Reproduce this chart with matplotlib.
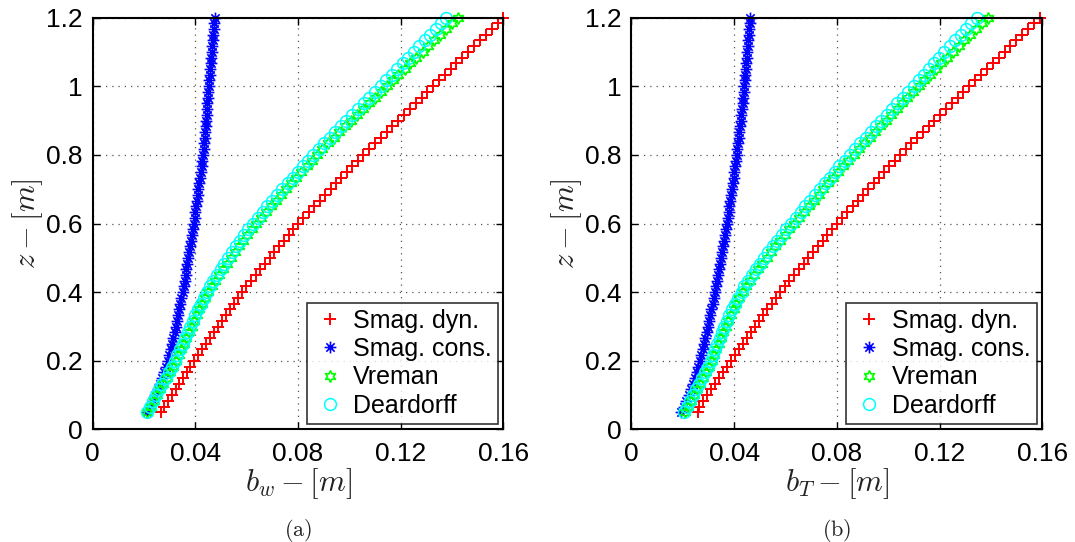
import numpy as np
import matplotlib
matplotlib.use("Agg")
import matplotlib.pyplot as plt
from matplotlib.ticker import FixedLocator, FuncFormatter
from matplotlib.path import Path

plt.rcParams['font.family'] = ['Liberation Sans', 'DejaVu Sans']
plt.rcParams['mathtext.fontset'] = 'cm'

# vertical grid of sample heights z [m]
z = [0.05 + k / 60 for k in range(70)]

# Panel (a): b_w
bw_smag_dyn = [0.0265, 0.0279, 0.0294, 0.0308, 0.0323, 0.0337, 0.0352, 0.0366, 0.0381, 0.0395,
               0.0410, 0.0426, 0.0441, 0.0457, 0.0472, 0.0487, 0.0503, 0.0518, 0.0534, 0.0549,
               0.0565, 0.0580, 0.0598, 0.0617, 0.0635, 0.0653, 0.0672, 0.0690, 0.0708, 0.0727,
               0.0745, 0.0763, 0.0782, 0.0800, 0.0821, 0.0842, 0.0864, 0.0885, 0.0906, 0.0927,
               0.0948, 0.0969, 0.0991, 0.1012, 0.1033, 0.1054, 0.1077, 0.1099, 0.1122, 0.1145,
               0.1167, 0.1190, 0.1213, 0.1235, 0.1258, 0.1281, 0.1303, 0.1326, 0.1349, 0.1372,
               0.1394, 0.1417, 0.1440, 0.1463, 0.1486, 0.1509, 0.1531, 0.1554, 0.1577, 0.1600]
bw_smag_cons = [0.0213, 0.0224, 0.0234, 0.0244, 0.0254, 0.0263, 0.0271, 0.0279, 0.0287, 0.0294,
                0.0299, 0.0304, 0.0309, 0.0314, 0.0319, 0.0324, 0.0328, 0.0333, 0.0337, 0.0342,
                0.0346, 0.0350, 0.0354, 0.0358, 0.0362, 0.0365, 0.0369, 0.0372, 0.0376, 0.0380,
                0.0383, 0.0387, 0.0390, 0.0394, 0.0397, 0.0400, 0.0403, 0.0406, 0.0409, 0.0412,
                0.0415, 0.0418, 0.0421, 0.0424, 0.0427, 0.0430, 0.0432, 0.0434, 0.0436, 0.0438,
                0.0440, 0.0442, 0.0444, 0.0446, 0.0447, 0.0449, 0.0451, 0.0453, 0.0455, 0.0457,
                0.0458, 0.0460, 0.0462, 0.0464, 0.0466, 0.0468, 0.0469, 0.0471, 0.0473, 0.0475]
bw_vreman = [0.0213, 0.0226, 0.0238, 0.0251, 0.0263, 0.0275, 0.0288, 0.0300, 0.0312, 0.0325,
             0.0335, 0.0345, 0.0355, 0.0365, 0.0375, 0.0385, 0.0395, 0.0405, 0.0416, 0.0427,
             0.0439, 0.0451, 0.0464, 0.0478, 0.0492, 0.0507, 0.0522, 0.0538, 0.0554, 0.0570,
             0.0586, 0.0603, 0.0620, 0.0637, 0.0656, 0.0675, 0.0694, 0.0713, 0.0733, 0.0753,
             0.0773, 0.0793, 0.0813, 0.0833, 0.0853, 0.0873, 0.0895, 0.0917, 0.0939, 0.0961,
             0.0984, 0.1007, 0.1030, 0.1053, 0.1076, 0.1099, 0.1122, 0.1145, 0.1168, 0.1191,
             0.1215, 0.1238, 0.1261, 0.1285, 0.1308, 0.1331, 0.1354, 0.1378, 0.1401, 0.1424]
bw_deardorff = [0.0210, 0.0223, 0.0235, 0.0248, 0.0260, 0.0272, 0.0285, 0.0297, 0.0309, 0.0322,
                0.0330, 0.0340, 0.0350, 0.0360, 0.0370, 0.0380, 0.0390, 0.0400, 0.0411, 0.0422,
                0.0434, 0.0446, 0.0456, 0.0470, 0.0483, 0.0498, 0.0512, 0.0528, 0.0543, 0.0559,
                0.0574, 0.0591, 0.0607, 0.0624, 0.0643, 0.0662, 0.0681, 0.0700, 0.0719, 0.0739,
                0.0759, 0.0779, 0.0799, 0.0818, 0.0838, 0.0858, 0.0880, 0.0901, 0.0923, 0.0944,
                0.0966, 0.0988, 0.1011, 0.1033, 0.1055, 0.1078, 0.1100, 0.1123, 0.1144, 0.1165,
                0.1187, 0.1208, 0.1229, 0.1251, 0.1272, 0.1293, 0.1314, 0.1336, 0.1357, 0.1378]

# Panel (b): b_T
bT_smag_dyn = [0.0260, 0.0262, 0.0278, 0.0293, 0.0309, 0.0325, 0.0340, 0.0356, 0.0371, 0.0387,
               0.0403, 0.0419, 0.0435, 0.0451, 0.0467, 0.0482, 0.0498, 0.0514, 0.0530, 0.0546,
               0.0562, 0.0578, 0.0597, 0.0615, 0.0634, 0.0652, 0.0671, 0.0689, 0.0708, 0.0726,
               0.0745, 0.0763, 0.0782, 0.0800, 0.0820, 0.0841, 0.0861, 0.0882, 0.0902, 0.0923,
               0.0943, 0.0963, 0.0984, 0.1004, 0.1025, 0.1045, 0.1068, 0.1090, 0.1113, 0.1135,
               0.1158, 0.1180, 0.1203, 0.1225, 0.1248, 0.1270, 0.1293, 0.1315, 0.1338, 0.1361,
               0.1384, 0.1407, 0.1430, 0.1453, 0.1476, 0.1498, 0.1521, 0.1544, 0.1567, 0.1590]
bT_smag_cons = [0.0195, 0.0205, 0.0214, 0.0223, 0.0232, 0.0240, 0.0247, 0.0254, 0.0261, 0.0268,
                0.0273, 0.0278, 0.0283, 0.0288, 0.0293, 0.0298, 0.0302, 0.0307, 0.0312, 0.0317,
                0.0321, 0.0326, 0.0330, 0.0334, 0.0338, 0.0342, 0.0346, 0.0350, 0.0354, 0.0358,
                0.0362, 0.0366, 0.0369, 0.0373, 0.0376, 0.0379, 0.0382, 0.0385, 0.0388, 0.0391,
                0.0395, 0.0398, 0.0401, 0.0404, 0.0407, 0.0410, 0.0413, 0.0415, 0.0418, 0.0420,
                0.0423, 0.0425, 0.0428, 0.0430, 0.0433, 0.0435, 0.0438, 0.0440, 0.0442, 0.0444,
                0.0446, 0.0448, 0.0449, 0.0451, 0.0453, 0.0455, 0.0457, 0.0458, 0.0460, 0.0462]
bT_vreman = [0.0209, 0.0221, 0.0232, 0.0244, 0.0255, 0.0267, 0.0279, 0.0290, 0.0302, 0.0313,
             0.0322, 0.0331, 0.0340, 0.0349, 0.0358, 0.0367, 0.0377, 0.0387, 0.0398, 0.0409,
             0.0421, 0.0434, 0.0448, 0.0463, 0.0478, 0.0494, 0.0510, 0.0527, 0.0544, 0.0561,
             0.0579, 0.0597, 0.0615, 0.0634, 0.0653, 0.0672, 0.0691, 0.0710, 0.0729, 0.0748,
             0.0767, 0.0786, 0.0805, 0.0825, 0.0845, 0.0865, 0.0886, 0.0907, 0.0928, 0.0949,
             0.0970, 0.0991, 0.1012, 0.1033, 0.1054, 0.1075, 0.1097, 0.1119, 0.1141, 0.1163,
             0.1185, 0.1207, 0.1229, 0.1251, 0.1274, 0.1297, 0.1320, 0.1343, 0.1366, 0.1390]
bT_deardorff = [0.0206, 0.0218, 0.0229, 0.0241, 0.0252, 0.0264, 0.0276, 0.0287, 0.0299, 0.0310,
                0.0317, 0.0326, 0.0335, 0.0344, 0.0353, 0.0362, 0.0372, 0.0382, 0.0393, 0.0404,
                0.0416, 0.0429, 0.0440, 0.0455, 0.0469, 0.0485, 0.0500, 0.0517, 0.0533, 0.0550,
                0.0567, 0.0585, 0.0602, 0.0621, 0.0640, 0.0659, 0.0678, 0.0697, 0.0715, 0.0734,
                0.0753, 0.0772, 0.0791, 0.0810, 0.0830, 0.0850, 0.0871, 0.0891, 0.0912, 0.0932,
                0.0952, 0.0973, 0.0994, 0.1014, 0.1035, 0.1056, 0.1077, 0.1099, 0.1119, 0.1139,
                0.1159, 0.1179, 0.1199, 0.1219, 0.1240, 0.1261, 0.1282, 0.1303, 0.1324, 0.1346]

series_names = ["Smag. dyn.", "Smag. cons.", "Vreman", "Deardorff"]
x_ticks = [0, 0.04, 0.08, 0.12, 0.16]
y_ticks = [0, 0.2, 0.4, 0.6, 0.8, 1.0, 1.2]

# MATLAB-style asterisk marker (line segments: + and x)
d = 0.7071
asterisk = Path([(0, -1), (0, 1), (-1, 0), (1, 0), (-d, -d), (d, d), (-d, d), (d, -d)],
                [Path.MOVETO, Path.LINETO] * 4)

styles = [
    dict(marker='+', color=(1, 0, 0), ms=8.5, mew=1.4),
    dict(marker=asterisk, color=(0, 0, 1), ms=8.5, mew=1.2, fillstyle='none'),
    dict(marker=(6, 1, 0), color=(0, 1, 0), ms=8.5, mew=1.2, fillstyle='none'),
    dict(marker='o', color=(0, 1, 1), ms=8.5, mew=1.1, fillstyle='none'),
]

fig = plt.figure(figsize=(10.75, 5.42), dpi=100)
axA = fig.add_axes([0.0862, 0.2076, 0.3821, 0.760])
axB = fig.add_axes([0.5873, 0.2076, 0.3823, 0.760])

panels = [
    (axA, [bw_smag_dyn, bw_smag_cons, bw_vreman, bw_deardorff], r'$b_w - [m]$', r'$\mathrm{(a)}$'),
    (axB, [bT_smag_dyn, bT_smag_cons, bT_vreman, bT_deardorff], r'$b_T - [m]$', r'$\mathrm{(b)}$'),
]

fmt = FuncFormatter(lambda v, p: ('%g' % round(v, 4)))

for ax, data, xl, cap in panels:
    for vals, name, st in zip(data, series_names, styles):
        ax.plot(vals, z, linestyle='none', label=name, clip_on=False, **st)
    ax.set_xlim(0, 0.16)
    ax.set_ylim(0, 1.2)
    ax.xaxis.set_major_locator(FixedLocator(x_ticks))
    ax.yaxis.set_major_locator(FixedLocator(y_ticks))
    ax.xaxis.set_major_formatter(fmt)
    ax.yaxis.set_major_formatter(fmt)
    ax.tick_params(direction='in', length=5, width=1, top=True, right=True,
                   labelsize=19, colors='black')
    ax.tick_params(axis='x', pad=9)
    ax.tick_params(axis='y', pad=7)
    for sp in ax.spines.values():
        sp.set_linewidth(1.5)
    ax.grid(True, linestyle=(0, (1, 4)), color='#555555', linewidth=0.9)
    ax.set_axisbelow(True)
    ax.set_xlabel(xl, fontsize=22, color='#222222', labelpad=0)
    ax.set_ylabel(r'$z - [m]$', fontsize=22, color='#222222', labelpad=1)
    leg = ax.legend(loc='lower right', fontsize=18, frameon=True, fancybox=False,
                    edgecolor='black', handlelength=1.4, handletextpad=0.2,
                    borderpad=0.25, labelspacing=0.17, borderaxespad=0.22)
    leg.get_frame().set_linewidth(1.2)
    ax.text(0.5, -0.245, cap, transform=ax.transAxes, ha='center', va='center',
            fontsize=16, color='#222222')

fig.savefig('out.png', dpi=100)
